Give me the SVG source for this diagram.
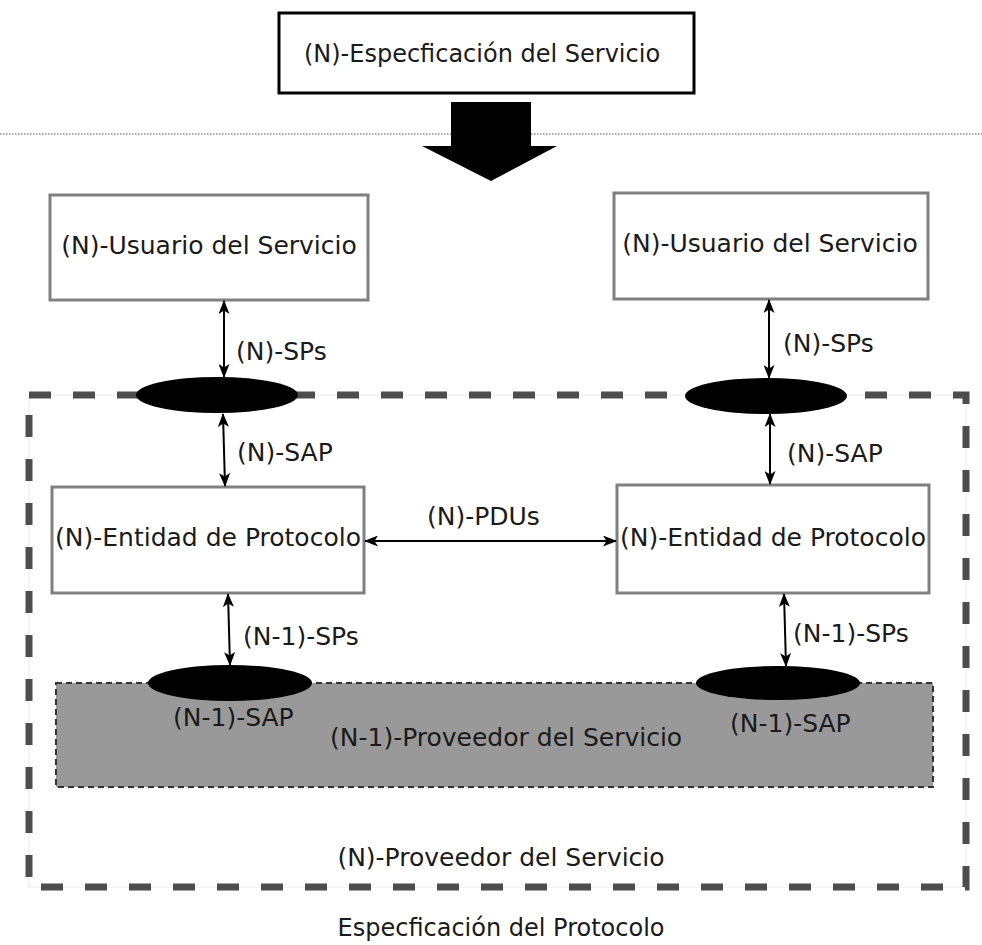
<svg xmlns="http://www.w3.org/2000/svg" width="982" height="945" viewBox="0 0 982 945">
<defs>
<style>
text{font-family:"DejaVu Sans","Liberation Sans",sans-serif;font-size:25px;fill:#1a1a1a}
.big{font-size:24px}
.box{fill:#fff;stroke:#808080;stroke-width:3}
.sap{fill:#000}
.conn{stroke:#000;stroke-width:2;fill:none;marker-start:url(#ah);marker-end:url(#ah)}
</style>
<marker id="ah" viewBox="0 0 14 11" refX="13" refY="5.5" markerWidth="14" markerHeight="11" markerUnits="userSpaceOnUse" orient="auto-start-reverse">
<path d="M0,0 L14,5.5 L0,11 L3.5,5.5 Z" fill="#000"/>
</marker>
</defs>
<rect width="982" height="945" fill="#fff"/>

<g id="spec-servicio">
<rect x="279" y="13" width="415" height="80" fill="#fff" stroke="#000" stroke-width="3"/>
<text class="big" x="482" y="62" text-anchor="middle">(N)-Especficación del Servicio</text>
</g>
<line x1="0" y1="134" x2="982" y2="134" stroke="#555" stroke-width="1" stroke-dasharray="1.5 1.5"/>
<path id="big-arrow" d="M451,102 H531 V146 H557 L491,181 L422,146 H451 Z" fill="#000"/>

<g id="n-proveedor">
<rect x="29" y="395" width="937" height="492" fill="none" stroke="#e8e8e8" stroke-width="1"/>
<rect x="29" y="395" width="937" height="492" fill="none" stroke="#4d4d4d" stroke-width="7" stroke-dasharray="22 22"/>
<text x="501" y="866" text-anchor="middle">(N)-Proveedor del Servicio</text>
</g>

<g id="n1-proveedor">
<rect x="56" y="683" width="877" height="104" fill="#999" stroke="#333" stroke-width="2" stroke-dasharray="6 4"/>
<text x="330" y="746">(N-1)-Proveedor del Servicio</text>
</g>

<g id="usuario-izq">
<rect class="box" x="50" y="195" width="318" height="105"/>
<text x="209" y="254" text-anchor="middle">(N)-Usuario del Servicio</text>
</g>
<g id="usuario-der">
<rect class="box" x="614" y="193" width="314" height="106"/>
<text x="770" y="252" text-anchor="middle">(N)-Usuario del Servicio</text>
</g>
<g id="entidad-izq">
<rect class="box" x="52" y="487" width="312" height="106"/>
<text x="208" y="546" text-anchor="middle">(N)-Entidad de Protocolo</text>
</g>
<g id="entidad-der">
<rect class="box" x="617" y="485" width="312" height="108"/>
<text x="773" y="546" text-anchor="middle">(N)-Entidad de Protocolo</text>
</g>

<g id="sap-izq"><ellipse class="sap" cx="217" cy="395" rx="81" ry="18"/></g>
<g id="sap-der"><ellipse class="sap" cx="766" cy="396" rx="81" ry="18"/></g>
<g id="sap1-izq"><ellipse class="sap" cx="230" cy="683" rx="82" ry="18"/>
<text x="173" y="726">(N-1)-SAP</text></g>
<g id="sap1-der"><ellipse class="sap" cx="778" cy="683" rx="82" ry="17"/>
<text x="730" y="732">(N-1)-SAP</text></g>

<g id="connectors">
<line class="conn" x1="224" y1="301" x2="224" y2="377"/>
<line class="conn" x1="223" y1="414" x2="225" y2="486"/>
<line class="conn" x1="228" y1="594" x2="230" y2="665"/>
<line class="conn" x1="769" y1="300" x2="769" y2="378"/>
<line class="conn" x1="770" y1="414" x2="770" y2="484"/>
<line class="conn" x1="784" y1="594" x2="786" y2="666"/>
<line class="conn" x1="365" y1="541" x2="616" y2="541"/>
<text x="236" y="360">(N)-SPs</text>
<text x="237" y="461">(N)-SAP</text>
<text x="243" y="645">(N-1)-SPs</text>
<text x="783" y="352">(N)-SPs</text>
<text x="787" y="462">(N)-SAP</text>
<text x="793" y="642">(N-1)-SPs</text>
<text x="427" y="525">(N)-PDUs</text>
</g>

<text class="big" x="501" y="936" text-anchor="middle">Especficación del Protocolo</text>
</svg>
